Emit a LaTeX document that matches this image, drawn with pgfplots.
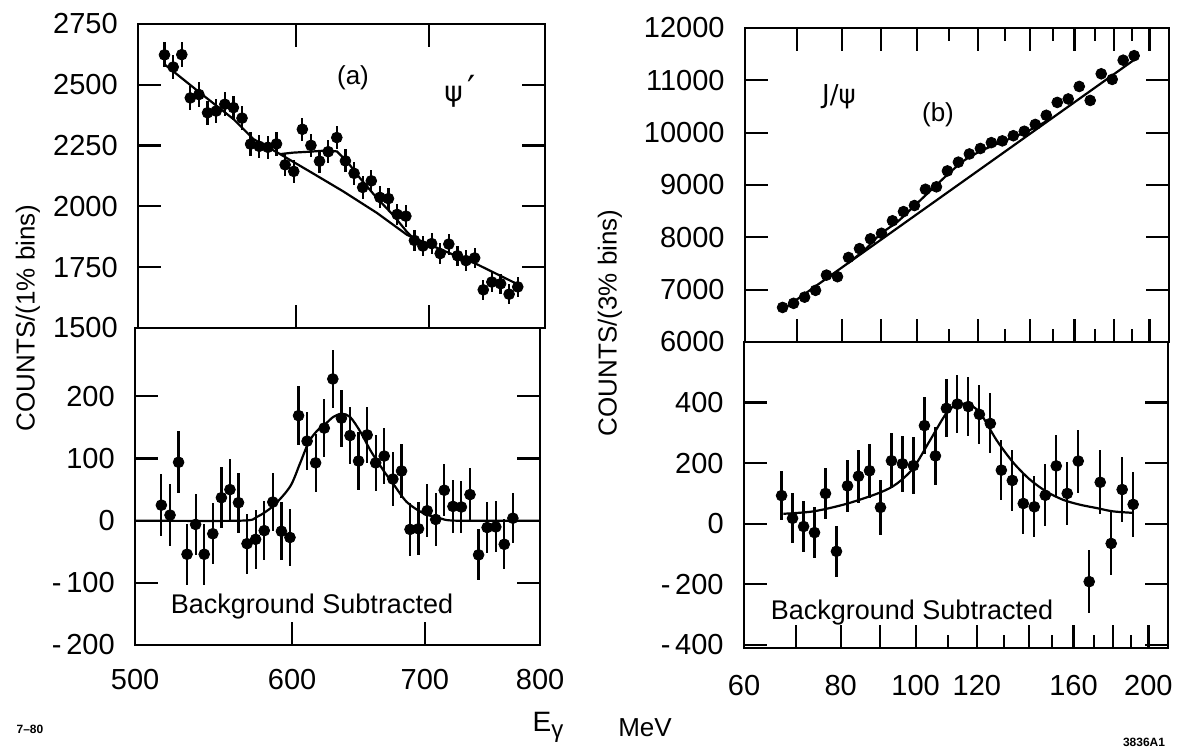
\documentclass[border=0pt]{standalone}
\usepackage{pgfplots}
\pgfplotsset{compat=1.18}
\usepackage{fontspec}
\setmainfont{Liberation Sans}
\newfontfamily\dejavu{DejaVu Sans}

\pgfplotstableread{
x y e
515.5 2623 51
520.7 2573 51
525.9 2624 51
531.1 2446 49
536.4 2460 50
541.8 2385 49
547.2 2392 49
552.7 2420 49
558.2 2406 49
563.8 2363 49
569.4 2256 48
575.1 2247 47
580.9 2243 47
586.7 2257 48
592.6 2171 47
598.5 2144 46
604.5 2317 48
610.5 2251 47
616.6 2186 47
622.8 2225 47
629.0 2283 48
635.3 2187 47
641.7 2136 46
648.1 2078 46
654.6 2105 46
661.1 2037 45
667.7 2032 45
674.4 1967 44
681.2 1960 44
688.0 1860 43
694.8 1837 43
701.8 1847 43
708.8 1806 42
715.9 1845 43
723.1 1797 42
730.3 1777 42
737.6 1788 42
745.0 1657 41
752.4 1689 41
760.0 1682 41
767.5 1639 40
775.2 1669 41
}\psiup

\pgfplotstableread{
x y e
515.5 25 50
520.7 9 50
525.9 94 50
531.1 -54 49
536.4 -6 49
541.8 -54 49
547.2 -21 49
552.7 37 49
558.2 50 49
563.8 29 48
569.4 -37 48
575.1 -30 47
580.9 -16 47
586.7 30 47
592.6 -17 47
598.5 -27 46
604.5 169 47
610.5 128 47
616.6 93 47
622.8 149 47
629.0 228 47
635.3 165 46
641.7 137 46
648.1 96 46
654.6 138 45
661.1 93 45
667.7 104 45
674.4 67 44
681.2 80 44
688.0 -14 43
694.8 -13 43
701.8 16 43
708.8 2 42
715.9 49 42
723.1 23 42
730.3 22 42
737.6 42 42
745.0 -55 41
752.4 -11 41
760.0 -10 41
767.5 -38 40
775.2 4 40
}\psilow

\pgfplotstableread{
x y
67.10 6660
69.33 6739
71.64 6857
74.02 6987
76.48 7278
79.02 7248
81.65 7615
84.36 7784
87.17 7972
90.07 8077
93.06 8316
96.16 8491
99.35 8608
102.66 8918
106.07 8965
109.60 9269
113.24 9437
117.00 9593
120.90 9698
124.91 9809
129.07 9843
133.36 9942
137.79 10027
142.37 10157
147.11 10332
152.00 10578
157.05 10644
162.28 10883
167.67 10616
173.25 11125
179.01 11018
184.96 11385
191.11 11471
}\jpsiup

\pgfplotstableread{
x y e
67.10 93 82
69.33 18 82
71.64 -9 83
74.02 -29 84
76.48 100 85
79.02 -91 85
81.65 125 87
84.36 157 88
87.17 175 89
90.07 54 90
93.06 208 91
96.16 198 92
99.35 192 93
102.66 324 94
106.07 224 95
109.60 381 96
113.24 395 97
117.00 387 98
120.90 361 98
124.91 331 99
129.07 177 99
133.36 143 100
137.79 67 100
142.37 56 101
147.11 94 102
152.00 191 103
157.05 100 103
162.28 207 104
167.67 -191 103
173.25 137 105
179.01 -65 105
184.96 113 107
191.11 64 107
}\jpsilow

\pgfplotsset{
  myaxis/.style={
    scale only axis,
    anchor=south west,
    scaled x ticks=false,
    scaled y ticks=false,
    axis line style={line width=1.3pt},
    tick align=inside,
    major tick length=11.5pt,
    minor tick length=6.5pt,
    tick style={line width=1.1pt, black},
    tick label style={font=\fontsize{14.5}{14.5}\selectfont},
    yticklabel style={anchor=east, inner sep=0pt, xshift=-10pt},
    xticklabel style={anchor=north, inner sep=0pt, yshift=-12pt},
  },
  pts/.style={only marks, mark=*, mark size=2.7pt, black},
  fit/.style={black, line width=1.1pt, no marks},
}

\begin{document}
\begin{tikzpicture}
\useasboundingbox (0,0) rectangle (590.5pt,377.5pt);

% (a) upper
\begin{semilogxaxis}[myaxis, at={(69pt,213.5pt)}, width=203.5pt, height=152pt,
  xmin=500, xmax=800, ymin=1500, ymax=2750,
  xtick={600,700}, xticklabels={,}, minor xtick={},
  ytick={1500,1750,2000,2250,2500,2750},
  yticklabels={1500,1750,2000,2250,2500,2750}]
\addplot[pts, error bars/.cd, y dir=both, y explicit, error mark=none,
  error bar style={line width=1.1pt}] table[x=x, y=y, y error=e] {\psiup};
\addplot[fit] coordinates {(515.9,2582) (537.1,2467) (558.2,2359) (571.2,2277)
  (589.1,2215) (609.8,2143) (633.6,2062) (658.9,1973) (682.1,1883)
  (711.1,1819) (739.6,1762) (774.6,1681)};
\addplot[fit] coordinates {(589.1,2215) (598.0,2221) (609.8,2225) (621.9,2230)
  (629.1,2226) (636.5,2185) (646.1,2116) (658.9,2034) (671.2,1965)
  (682.1,1895) (686.0,1875)};
\end{semilogxaxis}

% (a) lower
\begin{semilogxaxis}[myaxis, at={(67.5pt,55pt)}, width=202.5pt, height=158.5pt,
  xmin=500, xmax=800, ymin=-200, ymax=310,
  xtick={500,600,700,800}, xticklabels={500,600,700,800}, minor xtick={},
  xtick pos=left,
  ytick={-200,-100,0,100,200},
  yticklabels={-\,200,-\,100,0,100,200}]
\addplot[pts, error bars/.cd, y dir=both, y explicit, error mark=none,
  error bar style={line width=1.1pt}] table[x=x, y=y, y error=e] {\psilow};
\addplot[fit, smooth] coordinates {(500,0) (564.8,0) (575.9,6) (587.1,24)
  (598.6,55) (605.5,92) (611.6,126) (617.4,144) (623.8,156) (629.4,167)
  (635.6,172) (641.7,167) (649.2,144) (656.8,114) (661.9,97) (668.3,77)
  (674.8,59) (685.4,30) (698.7,12) (712.4,4) (726.3,0) (800,0)};
\end{semilogxaxis}

% (b) upper
\begin{semilogxaxis}[myaxis, at={(372.5pt,206.5pt)}, width=212pt, height=157pt,
  xmin=60, xmax=212, ymin=6000, ymax=12000,
  xtick={70,80,90,100,120,140,160,180,200}, xticklabels={,},
  minor xtick={110,130,150,170,190},
  ytick={6000,7000,8000,9000,10000,11000,12000},
  yticklabels={6000,7000,8000,9000,10000,11000,12000}]
\addplot[pts] table[x=x, y=y] {\jpsiup};
\addplot[fit] coordinates {(66.78,6596) (193.0,11437)};
\addplot[fit, smooth] coordinates {(81.44,7501) (85.6,7757) (89.93,8070)
  (94.51,8300) (99.31,8600) (104.36,8900) (109.66,9200) (115.2,9470)
  (121.1,9650) (127.25,9790) (133.72,9920) (140.5,10060) (147.66,10230)};
\end{semilogxaxis}

% (b) lower
\begin{semilogxaxis}[myaxis, at={(372pt,53.5pt)}, width=212pt, height=153pt,
  xmin=60, xmax=212, ymin=-410, ymax=600,
  xtick={60,70,80,90,100,120,140,160,180,200},
  xticklabels={60,,80,,100,120,,160,,200},
  minor xtick={110,130,150,170,190},
  xtick pos=left,
  xticklabel style={yshift=-1.5pt},
  ytick={-400,-200,0,200,400},
  yticklabels={-\,400,-\,200,0,200,400}]
\addplot[pts, error bars/.cd, y dir=both, y explicit, error mark=none,
  error bar style={line width=1.1pt}] table[x=x, y=y, y error=e] {\jpsilow};
\addplot[fit, smooth] coordinates {(67.45,33) (73.77,41) (81.44,66) (89.93,103)
  (94.51,132) (99.31,184) (104.36,275) (109.66,366) (113.31,395) (117.19,392)
  (121.1,367) (127.25,276) (133.72,202) (140.5,146) (147.66,106) (155.15,79)
  (163.03,63) (171.3,52) (180.0,41) (191.1,36)};
\end{semilogxaxis}

% texts
\node[rotate=90, font=\fontsize{13}{13}\selectfont] at (14pt,218.5pt) {COUNTS/(1\% bins)};
\node[rotate=90, font=\fontsize{13}{13}\selectfont] at (305pt,216pt) {COUNTS/(3\% bins)};
\node[font=\fontsize{13}{13}\selectfont] at (176.5pt,338.5pt) {(a)};
\node[font=\dejavu\fontsize{14}{14}\selectfont] at (230pt,332pt) {ψ\,{\fontsize{18}{18}\selectfont ′}};
\node[font=\dejavu\fontsize{13}{13}\selectfont] at (419.5pt,329pt) {J/ψ};
\node[font=\fontsize{13}{13}\selectfont] at (469pt,320pt) {(b)};
\node[font=\fontsize{13.5}{13.5}\selectfont] at (156pt,74pt) {Background Subtracted};
\node[font=\fontsize{13.5}{13.5}\selectfont] at (456pt,71pt) {Background Subtracted};
\node[font=\fontsize{14}{14}\selectfont] at (274pt,14pt) {E\raisebox{-3pt}{\fontsize{12}{12}\selectfont γ}};
\node[font=\fontsize{13}{13}\selectfont] at (322.5pt,13.5pt) {MeV};
\node[font=\bfseries\fontsize{6}{6}\selectfont] at (15pt,13pt) {7--80};
\node[font=\bfseries\fontsize{6}{6}\selectfont] at (572pt,6.5pt) {3836A1};
\end{tikzpicture}
\end{document}
